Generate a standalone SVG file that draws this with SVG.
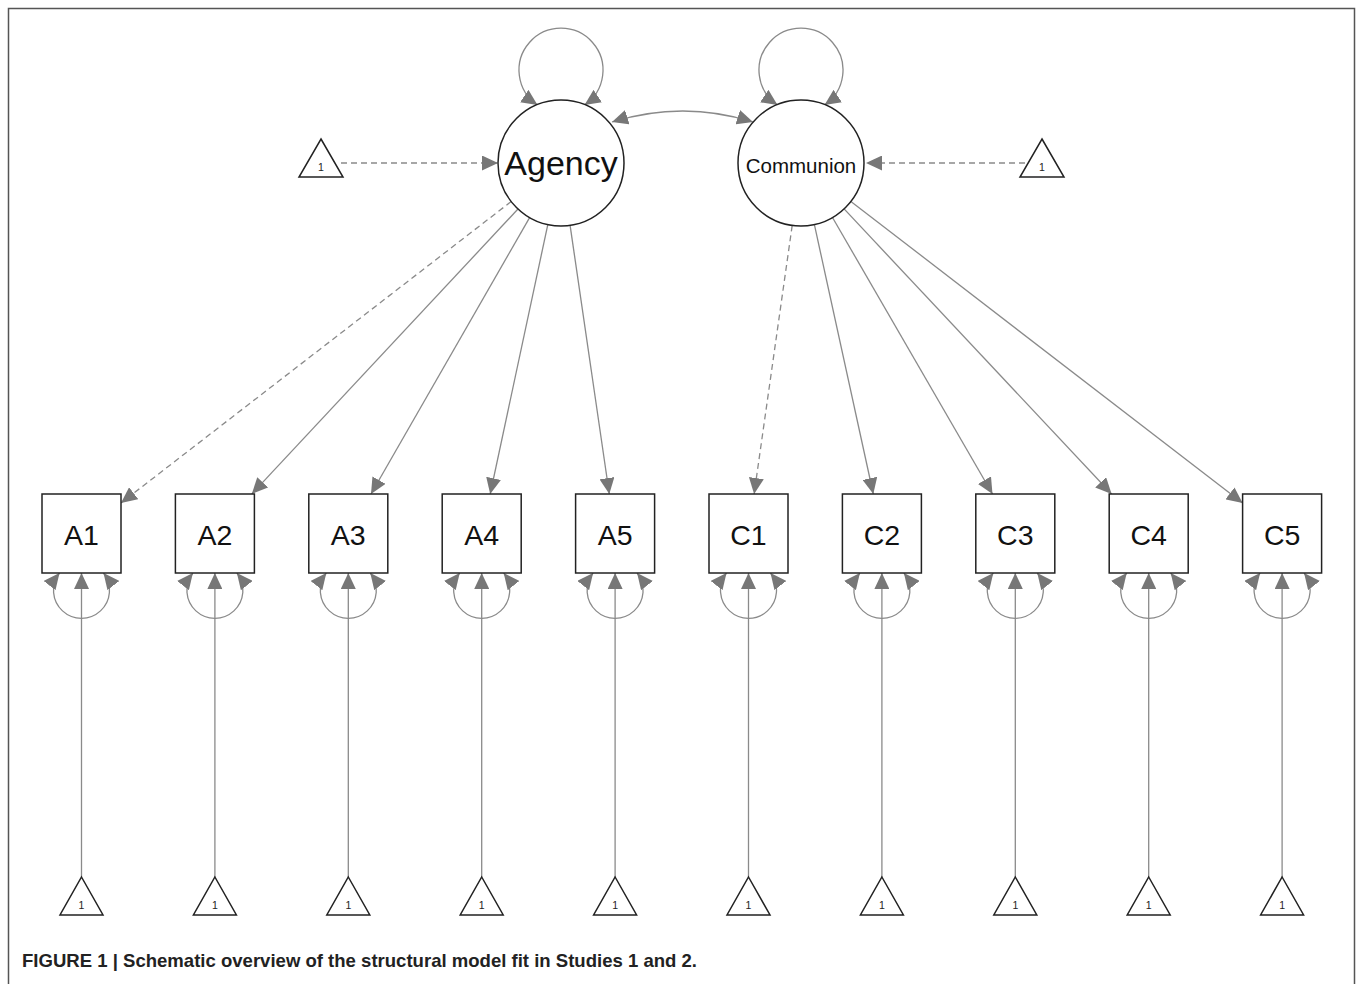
<svg xmlns="http://www.w3.org/2000/svg" width="1358" height="984" viewBox="0 0 1358 984">
<style>
.lat{fill:#fff;stroke:#222;stroke-width:1.5}
.box{fill:#fff;stroke:#222;stroke-width:1.5}
.tri{fill:#fff;stroke:#222;stroke-width:1.5}
.edge{fill:none;stroke:#8a8a8a;stroke-width:1.3}
.dash{stroke-dasharray:6,4}
.lbl{font-family:"Liberation Sans",Arial,sans-serif;fill:#111;text-anchor:middle}
.one{font-family:"Liberation Sans",Arial,sans-serif;font-size:10.5px;fill:#222;text-anchor:middle}
</style>
<defs>
<marker id="ah" markerUnits="userSpaceOnUse" markerWidth="16" markerHeight="15" refX="16" refY="7.5" orient="auto-start-reverse" viewBox="0 0 16 15">
<path d="M0,0 L16,7.5 L0,15 z" fill="#777"/>
</marker>
</defs>
<rect x="0" y="0" width="1358" height="984" fill="#fff"/>
<path d="M8.5,984 V8.5 H1354.5 V984" fill="none" stroke="#555" stroke-width="1.5"/>

<g id="connectors">
<path class="edge" d="M584.5,105 A42,42 0 1 0 537.5,105" marker-start="url(#ah)" marker-end="url(#ah)"/>
<path class="edge" d="M824.5,105 A42,42 0 1 0 777.5,105" marker-start="url(#ah)" marker-end="url(#ah)"/>
<path class="edge" d="M612,122 Q683,100 753,122" marker-start="url(#ah)" marker-end="url(#ah)"/>
<line class="edge dash" x1="341" y1="163" x2="498" y2="163" marker-end="url(#ah)"/>
<line class="edge dash" x1="1025" y1="163" x2="866" y2="163" marker-end="url(#ah)"/>
<line class="edge dash" x1="511.2" y1="201.5" x2="121" y2="503" marker-end="url(#ah)"/>
<line class="edge" x1="518" y1="209" x2="251.8" y2="494" marker-end="url(#ah)"/>
<line class="edge" x1="529.6" y1="217.6" x2="371" y2="494" marker-end="url(#ah)"/>
<line class="edge" x1="547.8" y1="224.6" x2="490.2" y2="494" marker-end="url(#ah)"/>
<line class="edge" x1="570.1" y1="225.3" x2="609.3" y2="494" marker-end="url(#ah)"/>
<line class="edge dash" x1="792.2" y1="225.4" x2="754.1" y2="494" marker-end="url(#ah)"/>
<line class="edge" x1="814.4" y1="224.6" x2="873.3" y2="494" marker-end="url(#ah)"/>
<line class="edge" x1="832.5" y1="217.5" x2="992.5" y2="494" marker-end="url(#ah)"/>
<line class="edge" x1="844.1" y1="208.9" x2="1111.6" y2="494" marker-end="url(#ah)"/>
<line class="edge" x1="850.9" y1="201.4" x2="1242.6" y2="503.1" marker-end="url(#ah)"/>
<path class="edge" d="M59.5,573 A28,28 0 1 0 103.5,573" marker-start="url(#ah)" marker-end="url(#ah)"/>
<path class="edge" d="M192.9,573 A28,28 0 1 0 236.9,573" marker-start="url(#ah)" marker-end="url(#ah)"/>
<path class="edge" d="M326.3,573 A28,28 0 1 0 370.3,573" marker-start="url(#ah)" marker-end="url(#ah)"/>
<path class="edge" d="M459.7,573 A28,28 0 1 0 503.7,573" marker-start="url(#ah)" marker-end="url(#ah)"/>
<path class="edge" d="M593.1,573 A28,28 0 1 0 637.1,573" marker-start="url(#ah)" marker-end="url(#ah)"/>
<path class="edge" d="M726.5,573 A28,28 0 1 0 770.5,573" marker-start="url(#ah)" marker-end="url(#ah)"/>
<path class="edge" d="M859.9,573 A28,28 0 1 0 903.9,573" marker-start="url(#ah)" marker-end="url(#ah)"/>
<path class="edge" d="M993.3,573 A28,28 0 1 0 1037.3,573" marker-start="url(#ah)" marker-end="url(#ah)"/>
<path class="edge" d="M1126.7,573 A28,28 0 1 0 1170.7,573" marker-start="url(#ah)" marker-end="url(#ah)"/>
<path class="edge" d="M1260.1,573 A28,28 0 1 0 1304.1,573" marker-start="url(#ah)" marker-end="url(#ah)"/>
<line class="edge" x1="81.5" y1="877" x2="81.5" y2="573" marker-end="url(#ah)"/>
<line class="edge" x1="214.9" y1="877" x2="214.9" y2="573" marker-end="url(#ah)"/>
<line class="edge" x1="348.3" y1="877" x2="348.3" y2="573" marker-end="url(#ah)"/>
<line class="edge" x1="481.7" y1="877" x2="481.7" y2="573" marker-end="url(#ah)"/>
<line class="edge" x1="615.1" y1="877" x2="615.1" y2="573" marker-end="url(#ah)"/>
<line class="edge" x1="748.5" y1="877" x2="748.5" y2="573" marker-end="url(#ah)"/>
<line class="edge" x1="881.9" y1="877" x2="881.9" y2="573" marker-end="url(#ah)"/>
<line class="edge" x1="1015.3" y1="877" x2="1015.3" y2="573" marker-end="url(#ah)"/>
<line class="edge" x1="1148.7" y1="877" x2="1148.7" y2="573" marker-end="url(#ah)"/>
<line class="edge" x1="1282.1" y1="877" x2="1282.1" y2="573" marker-end="url(#ah)"/>
</g>

<g id="Agency"><circle class="lat" cx="561" cy="163" r="63"/><text class="lbl" x="561" y="175" font-size="34">Agency</text></g>
<g id="Communion"><circle class="lat" cx="801" cy="163" r="63"/><text class="lbl" x="801" y="173" font-size="20.5">Communion</text></g>
<g id="int_Agency"><path class="tri" d="M321,139 L343,177 L299,177 z"/><text class="one" x="321" y="171">1</text></g>
<g id="int_Communion"><path class="tri" d="M1042,139 L1064,177 L1020,177 z"/><text class="one" x="1042" y="171">1</text></g>

<g id="A1"><rect class="box" x="42" y="494" width="79" height="79"/><text class="lbl" x="81.5" y="545" font-size="28.5">A1</text></g>
<g id="A2"><rect class="box" x="175.4" y="494" width="79" height="79"/><text class="lbl" x="214.9" y="545" font-size="28.5">A2</text></g>
<g id="A3"><rect class="box" x="308.8" y="494" width="79" height="79"/><text class="lbl" x="348.3" y="545" font-size="28.5">A3</text></g>
<g id="A4"><rect class="box" x="442.2" y="494" width="79" height="79"/><text class="lbl" x="481.7" y="545" font-size="28.5">A4</text></g>
<g id="A5"><rect class="box" x="575.6" y="494" width="79" height="79"/><text class="lbl" x="615.1" y="545" font-size="28.5">A5</text></g>
<g id="C1"><rect class="box" x="709" y="494" width="79" height="79"/><text class="lbl" x="748.5" y="545" font-size="28.5">C1</text></g>
<g id="C2"><rect class="box" x="842.4" y="494" width="79" height="79"/><text class="lbl" x="881.9" y="545" font-size="28.5">C2</text></g>
<g id="C3"><rect class="box" x="975.8" y="494" width="79" height="79"/><text class="lbl" x="1015.3" y="545" font-size="28.5">C3</text></g>
<g id="C4"><rect class="box" x="1109.2" y="494" width="79" height="79"/><text class="lbl" x="1148.7" y="545" font-size="28.5">C4</text></g>
<g id="C5"><rect class="box" x="1242.6" y="494" width="79" height="79"/><text class="lbl" x="1282.1" y="545" font-size="28.5">C5</text></g>

<g id="int_A1"><path class="tri" d="M81.5,877 L103,915 L60,915 z"/><text class="one" x="81.5" y="909">1</text></g>
<g id="int_A2"><path class="tri" d="M214.9,877 L236.4,915 L193.4,915 z"/><text class="one" x="214.9" y="909">1</text></g>
<g id="int_A3"><path class="tri" d="M348.3,877 L369.8,915 L326.8,915 z"/><text class="one" x="348.3" y="909">1</text></g>
<g id="int_A4"><path class="tri" d="M481.7,877 L503.2,915 L460.2,915 z"/><text class="one" x="481.7" y="909">1</text></g>
<g id="int_A5"><path class="tri" d="M615.1,877 L636.6,915 L593.6,915 z"/><text class="one" x="615.1" y="909">1</text></g>
<g id="int_C1"><path class="tri" d="M748.5,877 L770,915 L727,915 z"/><text class="one" x="748.5" y="909">1</text></g>
<g id="int_C2"><path class="tri" d="M881.9,877 L903.4,915 L860.4,915 z"/><text class="one" x="881.9" y="909">1</text></g>
<g id="int_C3"><path class="tri" d="M1015.3,877 L1036.8,915 L993.8,915 z"/><text class="one" x="1015.3" y="909">1</text></g>
<g id="int_C4"><path class="tri" d="M1148.7,877 L1170.2,915 L1127.2,915 z"/><text class="one" x="1148.7" y="909">1</text></g>
<g id="int_C5"><path class="tri" d="M1282.1,877 L1303.6,915 L1260.6,915 z"/><text class="one" x="1282.1" y="909">1</text></g>

<text x="22" y="967" font-family="'Liberation Sans',Arial,sans-serif" font-size="18.5" font-weight="bold" fill="#222" textLength="675" lengthAdjust="spacingAndGlyphs">FIGURE 1 | Schematic overview of the structural model fit in Studies 1 and 2.</text>
</svg>
